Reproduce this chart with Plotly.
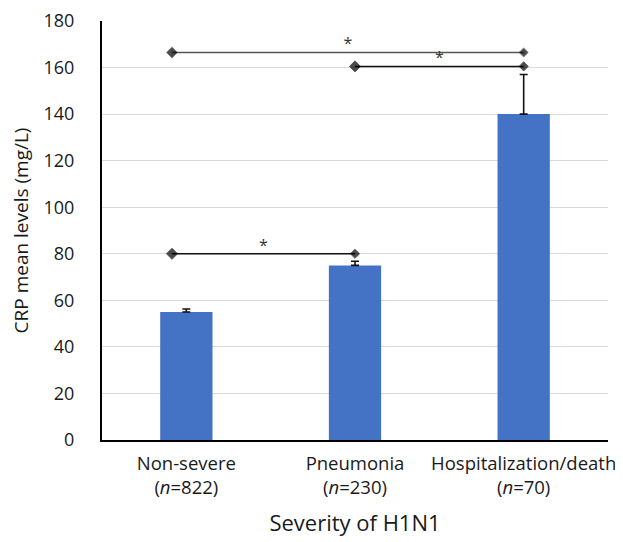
import plotly.graph_objects as go

categories = ["Non-severe<br>(<i>n</i>=822)", "Pneumonia<br>(<i>n</i>=230)", "Hospitalization/death<br>(<i>n</i>=70)"]
cat_pos = [0, 1, 2]
crp_mean = [55, 75, 140]
crp_err = [1.3, 1.8, 17]

# significance brackets (start position, end position, level)
bracket_start = [-0.085, -0.085, 1.0]
bracket_end = [1.0, 2.0, 2.0]
bracket_level = [80, 166.5, 160.5]
bracket_color = ["#111111", "#555555", "#111111"]
bracket_label = ["*", "*", "*"]

y_ticks = [0, 20, 40, 60, 80, 100, 120, 140, 160, 180]

FONT = "Open Sans"
TXT = "#1a1a1a"
LABEL_LIFT = 3.0  # asterisk sits just above its bracket line

fig = go.Figure()
fig.add_trace(go.Bar(
    x=cat_pos, y=crp_mean, width=0.31,
    marker=dict(color="#4472C4", line=dict(width=0)),
    error_y=dict(type="data", array=crp_err, visible=True, symmetric=False,
                 arrayminus=[0, 0, 0], color="#111111", thickness=1.6, width=4),
    showlegend=False, hoverinfo="skip",
))

for x0, x1, yv, col, lab in zip(bracket_start, bracket_end, bracket_level, bracket_color, bracket_label):
    fig.add_trace(go.Scatter(
        x=[x0, x1], y=[yv, yv], mode="lines+markers",
        line=dict(color=col, width=1.5),
        marker=dict(symbol="diamond", size=[8.5, 7], color="#000000"),
        showlegend=False, hoverinfo="skip",
    ))
    fig.add_trace(go.Scatter(
        x=[(x0 + x1) / 2], y=[yv + LABEL_LIFT], mode="text", text=[lab],
        textposition="middle center",
        textfont=dict(family=FONT, size=16, color="#333333"),
        showlegend=False, hoverinfo="skip",
    ))

# page body has an 8px margin, so the figure is 8px smaller each way
fig.update_layout(
    width=615, height=534,
    margin=dict(l=94, r=15, t=13, b=102, autoexpand=False),
    paper_bgcolor="white", plot_bgcolor="white",
    font=dict(family=FONT, size=18, color=TXT),
    bargap=0.69,
)
fig.update_xaxes(
    range=[-0.5, 2.5], tickvals=cat_pos, ticktext=categories,
    showline=True, linecolor="#000000", linewidth=2,
    showgrid=False, zeroline=False, ticks="", automargin=False,
    ticklabelstandoff=6,
    tickfont=dict(family=FONT, size=18.5, color=TXT),
    title=dict(text="Severity of H1N1", font=dict(family=FONT, size=22, color=TXT), standoff=17),
)
fig.update_yaxes(
    range=[0, 180], tickvals=y_ticks,
    showline=True, linecolor="#000000", linewidth=2,
    showgrid=True, gridcolor="#d9d9d9", gridwidth=1,
    zeroline=False, ticks="", ticklabelstandoff=22, automargin=False,
    tickfont=dict(family=FONT, size=18, color=TXT),
    title=dict(text="CRP mean levels (mg/L)", font=dict(family=FONT, size=19, color=TXT), standoff=10),
)

fig.write_html("out.html")
